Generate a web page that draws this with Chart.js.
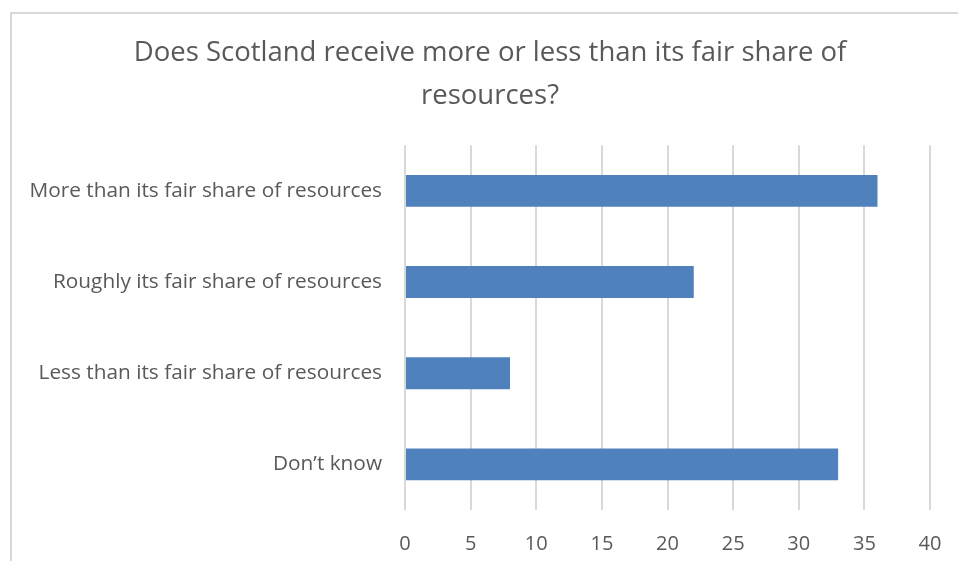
<!DOCTYPE html>
<html>
<head>
<meta charset="utf-8">
<script src="https://cdn.jsdelivr.net/npm/chart.js@4"></script>
<style>
  html, body { margin: 0; padding: 0; background: #fff; overflow: hidden; width: 958px; height: 561px; }
  #frame { position: absolute; left: 10px; top: 12px; width: 990px; height: 600px; border: 2px solid #d9d9d9; box-sizing: border-box; }
  #wrap { position: absolute; left: 0; top: 0; width: 980px; height: 561px; }
</style>
</head>
<body>
<div id="frame"></div>
<div id="wrap"><canvas id="chart" width="980" height="561"></canvas></div>
<script>
// ---- data ----
const titleLines = ['Does Scotland receive more or less than its fair share of', 'resources?'];
const categories = [
  'More than its fair share of resources',
  'Roughly its fair share of resources',
  'Less than its fair share of resources',
  'Don\u2019t know'
];
const values = [36, 22, 8, 33];
const xTicks = [0, 5, 10, 15, 20, 25, 30, 35, 40];

const textColor = '#595959';
const fontFamily = '"Open Sans", "Noto Sans", sans-serif';

new Chart(document.getElementById('chart').getContext('2d'), {
  type: 'bar',
  data: {
    labels: categories,
    datasets: [{
      data: values,
      backgroundColor: '#4f81bd',
      barPercentage: 0.35,
      categoryPercentage: 1
    }]
  },
  options: {
    indexAxis: 'y',
    responsive: false,
    animation: false,
    layout: { padding: 0 },
    plugins: {
      legend: { display: false },
      tooltip: { enabled: false },
      title: {
        display: true,
        text: titleLines,
        color: textColor,
        font: { family: fontFamily, size: 27.5, weight: 'normal', lineHeight: 1.55 },
        padding: { top: 32, bottom: 28 }
      }
    },
    scales: {
      x: {
        min: xTicks[0],
        max: xTicks[xTicks.length - 1],
        afterBuildTicks: s => { s.ticks = xTicks.map(v => ({ value: v })); },
        afterFit: s => { s.height = 51; },
        grid: { color: '#d9d9d9', lineWidth: 2, drawTicks: false },
        border: { display: false },
        ticks: { color: textColor, padding: 22, font: { family: fontFamily, size: 20 } }
      },
      y: {
        afterFit: s => { s.width = 405; },
        grid: { display: false },
        border: { display: false },
        ticks: { color: textColor, padding: 15, font: { family: fontFamily, size: 20.8 } }
      },
      // empty spacer on the right so the plot ends at 40 where the reference does
      spacer: {
        type: 'linear',
        position: 'right',
        afterFit: s => { s.width = 50; },
        grid: { display: false },
        border: { display: false },
        ticks: { display: false }
      }
    }
  }
});
</script>
</body>
</html>
